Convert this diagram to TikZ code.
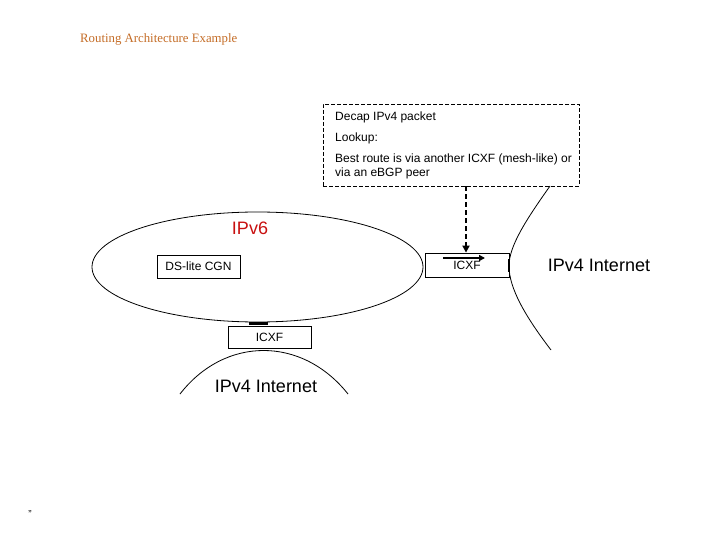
\documentclass[tikz,border=0pt]{standalone}
\usepackage{fontspec}
\setmainfont{Liberation Sans}
\newfontfamily\titlefont{Liberation Serif}
\usetikzlibrary{arrows.meta,shapes.geometric}
\definecolor{titleorange}{RGB}{196,108,38}
\definecolor{ipred}{RGB}{200,16,16}
\tikzset{
  boxnode/.style={draw=black, line width=0.8pt, minimum width=#1, inner sep=0pt, font=\fontsize{12}{14}\selectfont},
  boxnode/.default=83pt,
  bigtext/.style={font=\fontsize{18}{21}\selectfont},
  smalltext/.style={font=\fontsize{12}{14}\selectfont, inner sep=0pt, anchor=base west, align=left},
  curve/.style={line width=0.8pt},
  thickmark/.style={line width=2.2pt}
}
\begin{document}
\begin{tikzpicture}[x=1pt,y=-1pt]
\useasboundingbox (0,0) rectangle (720,540);
% title
\node[font=\titlefont\fontsize{12.8}{15}\selectfont, text=titleorange, anchor=west, inner sep=0pt] (title) at (80,39) {Routing Architecture Example};
% dashed info box
\node[draw=black, dashed, line width=0.8pt, minimum width=256pt, minimum height=82pt, inner sep=0pt, dash pattern=on 4pt off 2pt] (info) at (451,145) {};
\node[smalltext] (l1) at (335,120.5) {Decap IPv4 packet};
\node[smalltext] (l2) at (335,141.5) {Lookup:};
\node[smalltext] (l3) at (335,177) {Best route is via another ICXF (mesh-like) or\\via an eBGP peer};
% IPv6 ellipse
\node[draw=black, curve, ellipse, minimum width=331pt, minimum height=110pt, inner sep=0pt] (ipv6) at (257.5,267) {};
\node[bigtext, text=ipred] (ipv6lbl) at (250,228) {IPv6};
% DS-lite CGN
\node[boxnode, minimum height=23pt] (dslite) at (198.5,266.5) {DS-lite CGN};
% right ICXF
\node[boxnode=84pt, minimum height=24pt] (icxfr) at (467,265) {\raisebox{-1pt}{ICXF}};
\coordinate (arrs) at (443,258);
\coordinate (arre) at (485,258);
\draw[line width=2.2pt, -{Triangle[length=6pt,width=6pt]}] (arrs) -- (arre);
% dashed arrow from info box to right ICXF
\draw[line width=2.4pt, dash pattern=on 5pt off 3pt, -{Triangle[length=7pt,width=7pt]}] (info.south -| 466,0) -- (icxfr.north -| 466,0);
% right curve (IPv4 Internet)
\coordinate (rc1) at (550,186);
\coordinate (rc2) at (509,266);
\coordinate (rc3) at (551,350);
\draw[curve] (rc1) .. controls (526,220) and (509,246) .. (rc2) .. controls (509,288) and (525,316) .. (rc3);
\draw[thickmark] (509,259) -- (509,272);
\node[bigtext] (inetr) at (599,265) {IPv4 Internet};
% bottom ICXF
\node[boxnode, minimum height=22pt] (icxfb) at (269.5,337) {ICXF};
\draw[thickmark] (249,323.5) -- (268,323.5);
% bottom curve
\coordinate (bc1) at (180,394);
\coordinate (bc2) at (348,394);
\draw[curve] (bc1) .. controls (225,336) and (302,336) .. (bc2);
\node[bigtext] (inetb) at (266,386) {IPv4 Internet};
% footer mark
\node[font=\fontsize{10}{11}\selectfont, inner sep=0pt] (foot) at (30,514) {”};
\end{tikzpicture}
\end{document}
